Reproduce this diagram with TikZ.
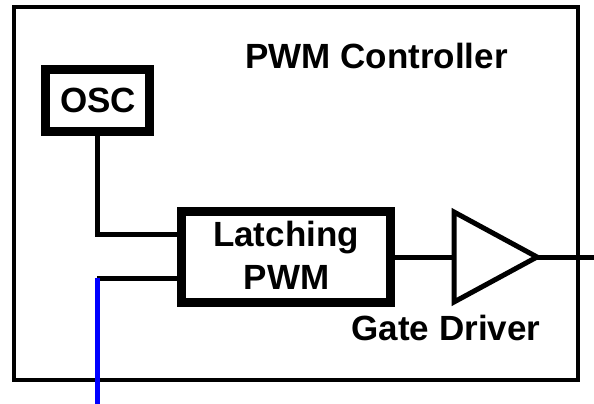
\documentclass[tikz,border=0pt]{standalone}
\usepackage{fontspec}
\setmainfont{Liberation Sans}
\begin{document}
\begin{tikzpicture}[x=1pt,y=-1pt,
  lbl/.style={font=\fontsize{35}{38}\selectfont\bfseries, inner sep=0pt, anchor=base},
  blk/.style={draw, line width=9pt, inner sep=0pt},
  wire/.style={line width=5pt},
  frame/.style={line width=4pt}]
\useasboundingbox (0,0) rectangle (594,404);
% outer frame
\draw[frame] (14,7) rectangle (578,380);
\node[lbl] (title) at (376.5,68) {PWM Controller};
% OSC block
\node[blk, minimum width=104pt, minimum height=62pt] (osc) at (97.5,100.5) {};
\node[lbl] (osct) at (98,112) {OSC};
% Latching PWM block
\node[blk, minimum width=209pt, minimum height=91pt] (latch) at (286,257) {};
\node[lbl] (lt1) at (286,246) {Latching};
\node[lbl] (lt2) at (286.5,289) {PWM};
% gate driver triangle
\coordinate (tl) at (454,212);
\coordinate (tb) at (454,302);
\coordinate (tin) at (454,257);
\coordinate (tap) at (537,257);
\draw[line width=5pt, line join=miter] (tl) -- (tap) -- (tb) -- cycle;
\node[lbl] (gd) at (446,340) {Gate Driver};
% wires
\coordinate (c1) at (97,234);
\coordinate (c2) at (97,278);
\coordinate (bot) at (97,404);
\coordinate (out) at (594,257);
\draw[wire] (osc.south -| c1) -- (c1) -- (c1 -| latch.west);
\draw[wire] (c2) -- (c2 -| latch.west);
\draw[wire, blue] (c2) -- (bot);
\draw[wire] (latch.east |- tin) -- (tin);
\draw[wire] (tap) -- (out);
\end{tikzpicture}
\end{document}
